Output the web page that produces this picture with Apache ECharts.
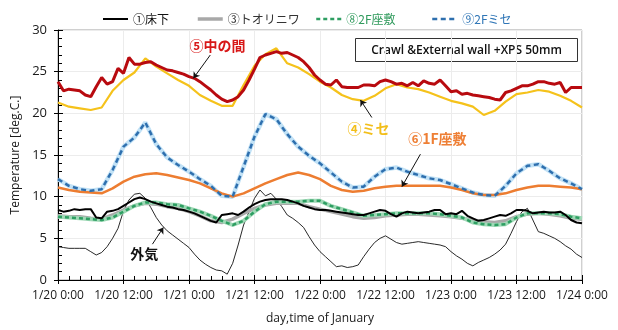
<!DOCTYPE html>
<html>
<head>
<meta charset="utf-8">
<script src="https://cdn.jsdelivr.net/npm/echarts@6/dist/echarts.min.js"></script>
<style>
  html, body { margin: 0; padding: 0; background: #fff; }
  #chart { width: 618px; height: 330px; }
</style>
</head>
<body>
<div id="chart"></div>
<script>
// Time axis: hours since 1/20 0:00, labelled every 12 h
const xTickLabels = ['1/20 0:00', '1/20 12:00', '1/21 0:00', '1/21 12:00', '1/22 0:00',
                     '1/22 12:00', '1/23 0:00', '1/23 12:00', '1/24 0:00'];

// Hourly records (1/20 0:00 .. 1/24 0:00, 97 values)
const nakanoma = [23.8,22.7,22.9,22.8,22.7,22.2,22.0,23.2,24.3,23.5,23.8,25.4,24.8,26.7,25.9,25.9,26.1,26.2,25.8,25.5,
  25.2,25.1,24.9,24.7,24.4,24.2,23.8,23.3,22.8,22.2,21.7,21.4,21.6,22.0,22.8,24.0,25.3,26.7,27.0,27.2,
  27.4,27.2,27.3,27.0,26.7,26.2,25.5,24.6,24.0,23.5,23.4,24.0,23.2,23.1,23.1,23.1,23.4,23.4,23.3,23.8,
  24.0,23.8,23.5,23.6,23.3,23.7,23.3,23.9,23.6,23.5,24.0,23.3,22.6,22.7,22.3,22.4,22.2,22.1,22.0,21.9,
  21.7,21.6,22.5,22.7,23.0,23.3,23.3,23.5,23.8,23.8,23.6,23.5,23.7,22.5,23.1,23.1,23.1];
const yukashita = [8.4,8.2,8.3,8.5,8.4,8.5,8.5,7.5,7.4,8.2,8.3,8.5,8.9,9.3,9.7,9.9,9.7,9.4,9.2,9.0,
  8.8,8.7,8.5,8.4,8.2,8.0,7.7,7.4,7.1,6.9,7.8,7.9,8.0,7.8,8.2,8.7,9.1,9.4,9.6,9.7,
  9.7,9.7,9.6,9.4,9.2,8.9,8.7,8.5,8.4,8.4,8.3,8.2,8.1,8.0,7.9,7.8,7.8,8.0,8.2,8.4,
  8.3,7.9,7.6,8.0,8.2,8.1,8.0,8.1,8.2,8.4,8.4,7.9,8.0,7.9,8.3,7.7,7.4,7.1,7.2,7.4,
  7.6,7.8,7.7,8.0,8.4,8.4,8.3,8.0,8.1,8.2,8.1,8.1,8.2,7.8,7.2,6.9,6.8];
const gaiki = [4.0,3.9,3.8,3.8,3.8,3.8,3.4,3.0,3.3,4.0,5.0,6.2,8.3,9.6,10.3,10.4,9.8,8.7,7.5,6.6,
  5.9,5.4,4.9,4.4,3.9,3.1,2.4,1.9,1.5,1.2,1.1,0.7,2.0,4.2,6.6,8.2,9.8,10.8,10.1,10.4,
  9.7,8.8,7.8,7.4,6.9,6.3,5.2,4.2,3.4,2.8,2.2,1.6,1.7,1.5,1.6,1.8,2.8,3.7,4.5,5.0,
  5.3,4.9,4.5,4.3,4.4,4.5,4.6,4.5,4.4,4.3,4.2,4.0,3.4,2.9,2.5,2.0,1.7,2.1,2.4,2.7,
  3.1,3.6,4.3,5.6,7.0,8.2,8.6,7.2,5.8,5.6,5.3,5.0,4.6,4.1,3.7,3.1,2.7];

// Two-hourly records (49 values)
const mise = [21.3,20.8,20.6,20.4,20.7,22.7,24.0,24.9,26.6,25.6,24.8,24.0,23.3,22.2,21.5,20.9,20.9,23.4,25.7,27.1,
  27.8,26.0,25.5,24.7,23.8,23.1,22.2,21.7,21.5,22.1,23.0,23.5,23.1,22.9,22.5,22.0,21.5,21.2,20.8,19.8,
  20.3,21.4,22.3,22.5,22.8,22.6,22.1,21.5,20.7];
const zashiki1F = [11.1,10.8,10.6,10.5,10.4,11.0,11.8,12.4,12.7,12.8,12.6,12.3,12.0,11.6,11.0,10.4,10.0,10.4,11.0,11.6,
  12.1,12.6,12.9,12.6,12.1,11.3,10.8,10.6,10.7,11.0,11.2,11.3,11.3,11.3,11.3,11.3,11.1,10.8,10.4,10.2,
  10.2,10.4,10.8,11.1,11.3,11.3,11.2,11.1,10.9];
const mise2F = [12.1,11.3,10.9,10.7,10.9,13.2,16.0,17.1,18.9,16.3,14.7,13.8,13.0,12.1,11.3,10.1,10.0,13.6,17.2,19.9,
  19.3,17.5,16.0,14.9,14.0,12.9,11.8,11.1,11.2,12.4,13.3,13.5,13.0,12.6,12.2,12.0,11.5,11.0,10.5,10.2,
  10.1,11.3,12.8,13.7,13.9,13.1,12.2,11.6,10.9];
const toriniwa = [7.7,7.6,7.6,7.4,7.3,7.8,8.4,8.9,9.2,9.1,8.8,8.6,8.2,7.7,7.1,6.9,7.3,8.0,8.6,9.0,
  9.2,9.2,9.2,8.8,8.5,8.2,7.9,7.6,7.4,7.5,7.7,7.8,7.9,7.9,7.8,7.7,7.6,7.4,7.2,7.0,
  6.9,7.1,7.6,7.9,8.0,7.9,7.7,7.4,7.3];
const zashiki2F = [7.6,7.5,7.4,7.3,7.2,7.5,8.2,8.9,9.3,9.3,9.1,9.0,8.6,8.2,7.7,7.1,6.6,7.1,8.2,9.1,
  9.4,9.4,9.4,9.5,9.5,8.9,8.5,8.1,7.7,7.8,7.9,8.0,8.0,8.0,8.0,7.9,7.7,7.5,6.9,6.7,
  6.6,6.7,7.5,8.0,8.0,8.0,7.9,7.6,7.4];

// pair each reading with its hour on the time axis
function timed(values, stepHours) {
  return values.map((v, i) => [i * stepHours, v]);
}

const FONT = '"Noto Sans CJK JP", "Noto Sans", sans-serif';

// Callout labels with their pointer arrows (data coordinates: [hour, deg.C])
const notes = [
  { text: '⑤中の間', color: '#D81818', at: [29.2, 28.1], from: [27.9, 27.0], to: [24.8, 24.2] },
  { text: '④ミセ', color: '#F2BE1A', at: [56.9, 18.2], from: [57.5, 19.5], to: [55.4, 21.6] },
  { text: '⑥1F座敷', color: '#EE7F35', at: [69.5, 17.0], from: [66.4, 15.1], to: [63.0, 11.2] },
  { text: '外気', color: '#111111', at: [15.8, 3.2], from: [17.3, 4.3], to: [19.3, 6.3] }
];

function line(name, data, color, width, extra) {
  return Object.assign({
    name: name, type: 'line', data: data, showSymbol: false, symbol: 'none',
    xAxisIndex: 0, yAxisIndex: 0,
    lineStyle: { color: color, width: width },
    itemStyle: { color: color },
    emphasis: { disabled: true }, animation: false, z: 3
  }, extra || {});
}

function legendAt(name, left, textColor, iconWidth) {
  return {
    data: [name], left: left, top: 8, itemWidth: 25, itemHeight: 10, itemGap: 0,
    itemStyle: { opacity: 0 },
    lineStyle: { width: iconWidth },
    textStyle: { fontFamily: FONT, fontSize: 12, color: textColor }, selectedMode: false
  };
}

const chart = echarts.init(document.getElementById('chart'), null, { renderer: 'canvas' });

const axisFont = { fontFamily: '"Open Sans", "Noto Sans", sans-serif', fontSize: 12, color: '#1a1a1a' };

chart.setOption({
  animation: false,
  backgroundColor: '#ffffff',
  grid: { left: 58, right: 36, top: 30, bottom: 47, show: true, borderColor: '#a0a0a0', borderWidth: 1 },
  legend: [
    legendAt('①床下', 97, '#111', 2),
    legendAt('③トオリニワ', 191, '#333', 3.5),
    legendAt('⑧2F座敷', 310, '#2f9a5c', 2.5),
    legendAt('⑨2Fミセ', 426, '#2E75B6', 2.5)
  ],
  xAxis: [
    {
      type: 'value', min: 0, max: 96, interval: 12,
      name: 'day,time of January', nameLocation: 'middle', nameGap: 33,
      nameTextStyle: axisFont,
      axisLine: { show: true, onZero: false, lineStyle: { color: '#000', width: 1 } },
      axisTick: { show: true, inside: true, length: 5, lineStyle: { color: '#000' } },
      minorTick: { show: true, splitNumber: 6, length: 4, lineStyle: { color: '#000' } },
      axisLabel: { margin: 10, formatter: v => xTickLabels[Math.round(v / 12)], ...axisFont },
      splitLine: { show: true, lineStyle: { color: '#ececec', width: 1 } }
    },
    {
      type: 'value', min: 0, max: 96, interval: 12, position: 'bottom',
      axisLine: { show: false }, axisLabel: { show: false }, splitLine: { show: false },
      axisTick: { show: true, inside: false, length: 4, lineStyle: { color: '#000' } }
    }
  ],
  yAxis: [
    {
      type: 'value', min: 0, max: 30, interval: 5,
      name: 'Temperature [deg.C.]', nameLocation: 'middle', nameGap: 31,
      nameTextStyle: axisFont,
      axisLine: { show: true, onZero: false, lineStyle: { color: '#000', width: 1 } },
      axisTick: { show: true, inside: true, length: 5, lineStyle: { color: '#000' } },
      minorTick: { show: true, splitNumber: 5, length: 4, lineStyle: { color: '#000' } },
      axisLabel: { margin: 11, ...axisFont, fontSize: 13 },
      splitLine: { show: true, lineStyle: { color: '#ececec', width: 1 } }
    },
    {
      type: 'value', min: 0, max: 30, interval: 5, position: 'left',
      axisLine: { show: false }, axisLabel: { show: false }, splitLine: { show: false },
      axisTick: { show: true, inside: false, length: 4, lineStyle: { color: '#000' } }
    }
  ],
  graphic: [{
    type: 'group', left: 355, top: 38,
    children: [
      { type: 'rect', shape: { x: 0, y: 0, width: 222, height: 23 },
        style: { fill: '#fff', stroke: '#333', lineWidth: 1 } },
      { type: 'text', x: 111, y: 12,
        style: { text: 'Crawl &External wall +XPS 50mm', align: 'center', verticalAlign: 'middle',
                 font: '600 12px "Open Sans", "Noto Sans", sans-serif', fill: '#111' } }
    ]
  }],
  series: [
    line('外気', timed(gaiki, 1), '#111', 0.9, {
      z: 2,
      markLine: {
        silent: true, animation: false, symbol: ['none', 'arrow'], symbolSize: 6,
        lineStyle: { color: '#111', width: 1, type: 'solid' }, label: { show: false },
        data: notes.map(n => [{ coord: n.from }, { coord: n.to }])
      },
      markPoint: {
        silent: true, animation: false, symbol: 'circle', symbolSize: 0,
        data: notes.map(n => ({
          coord: n.at,
          label: { show: true, position: 'inside', formatter: n.text, color: n.color,
                   fontFamily: FONT, fontSize: 14, fontWeight: 'bold' }
        }))
      }
    }),
    line('⑥1F座敷', timed(zashiki1F, 2), '#ED7D31', 2.5),
    line('⑨2Fミセ glow', timed(mise2F, 2), '#c2e2f6', 4.5, { silent: true, z: 2 }),
    line('⑨2Fミセ', timed(mise2F, 2), '#2E6FAE', 2.5, { lineStyle: { color: '#2E6FAE', width: 2.5, type: [5, 3.5] } }),
    line('④ミセ', timed(mise, 2), '#F5C21B', 2.2),
    line('⑤中の間', timed(nakanoma, 1), '#B80A0F', 3),
    line('③トオリニワ', timed(toriniwa, 2), '#A8A8A8', 3.5),
    line('⑧2F座敷 glow', timed(zashiki2F, 2), '#9fd9b6', 4, { silent: true, z: 3 }),
    line('⑧2F座敷', timed(zashiki2F, 2), '#2E9E62', 2.5, { z: 4, lineStyle: { color: '#2E9E62', width: 2.5, type: [4, 3] } }),
    line('①床下', timed(yukashita, 1), '#000', 2, { z: 5 })
  ]
});
</script>
</body>
</html>
